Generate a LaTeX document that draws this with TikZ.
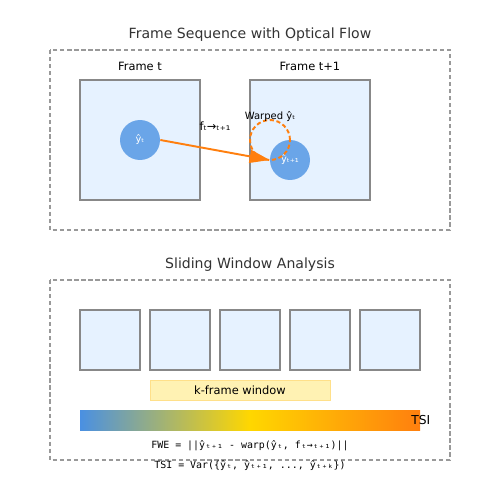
\documentclass[tikz,border=0pt]{standalone}
\usepackage{fontspec}
\setmainfont{DejaVu Sans}
\setmonofont{DejaVu Sans Mono}
\usetikzlibrary{arrows.meta, positioning, shapes, calc}
\definecolor{framefill}{HTML}{E6F2FF}
\definecolor{framedraw}{HTML}{888888}
\definecolor{outerdraw}{HTML}{999999}
\definecolor{objblue}{HTML}{6AA5E8}
\definecolor{flowor}{HTML}{FF7F0E}
\definecolor{winfill}{HTML}{FFF2B3}
\definecolor{windraw}{HTML}{FFE08A}
\definecolor{gradblue}{HTML}{4A90E2}
\definecolor{gradgold}{HTML}{FFD700}
\definecolor{titlegray}{HTML}{333333}

\begin{document}
\begin{tikzpicture}[
        x=0.02cm, y=-0.02cm,
        frame/.style={rectangle, draw=framedraw, fill=framefill, line width=0.8pt, minimum width=2.4cm, minimum height=2.4cm, inner sep=0pt},
        smallframe/.style={rectangle, draw=framedraw, fill=framefill, line width=0.8pt, minimum width=1.2cm, minimum height=1.2cm, inner sep=0pt},
        obj/.style={circle, fill=objblue, minimum size=0.8cm, inner sep=0pt, text=white, font=\fontsize{5.6}{6}\selectfont},
        group/.style={draw=outerdraw, dash pattern=on 2.4pt off 1.6pt, line width=0.6pt},
        title/.style={font=\fontsize{8}{10}\selectfont, text=titlegray},
        label/.style={font=\fontsize{6.5}{8}\selectfont}
    ]
        \useasboundingbox (0,0) rectangle (500,500);

        % optical flow part
        \node[title] (t1) at (250,35) {Frame Sequence with Optical Flow};
        \draw[group] (50,50) rectangle (450,230);
        \node[label] (lt) at (140,66) {Frame t};
        \node[label] (lt1) at (310,66) {Frame t+1};
        \node[frame] (ft) at (140,140) {};
        \node[frame] (ft1) at (310,140) {};
        \node[obj] (yt) at (140,140) {ŷₜ};
        \node[obj] (yt1) at (290,160) {ŷₜ₊₁};
        \node[circle, draw=flowor, dash pattern=on 2.4pt off 1.5pt, line width=1.1pt, minimum size=0.8cm, inner sep=0pt] (warp) at (270,140) {};
        \node[font=\fontsize{5.7}{6}\selectfont] (lw) at (270,117) {Warped ŷₜ};
        \draw[flowor, line width=1.1pt, -{Triangle[length=0.4cm, width=0.26cm]}] (yt.east) -- (yt1.west);
        \node[font=\fontsize{6.5}{7}\selectfont] (lf) at (215,126) {fₜ→ₜ₊₁};

        % sliding window part
        \node[title] (t2) at (250,265) {Sliding Window Analysis};
        \draw[group] (50,280) rectangle (450,460);
        \foreach \i in {0,...,4}
            \node[smallframe] (w\i) at (110+70*\i,340) {};
        \node[rectangle, draw=windraw, fill=winfill, minimum width=3.6cm, minimum height=0.4cm, inner sep=0pt, label] (kw) at (240,390) {k-frame window};
        \shade[left color=gradblue, right color=flowor, middle color=gradgold] (80,410) rectangle (420,430);
        \node[label, anchor=west, inner sep=0pt, font=\fontsize{7}{8}\selectfont] (ltsi) at (411,420) {TSI};
        \node[font=\ttfamily\fontsize{5.65}{6}\selectfont] (fwe) at (250,446) {FWE = ||ŷₜ₊₁ - warp(ŷₜ, fₜ→ₜ₊₁)||};
        \node[font=\ttfamily\fontsize{5.65}{6}\selectfont] (tsi) at (250,466) {TSI = Var(\{ŷₜ, ŷₜ₊₁, ..., ŷₜ₊ₖ\})};
    \end{tikzpicture}
\end{document}
